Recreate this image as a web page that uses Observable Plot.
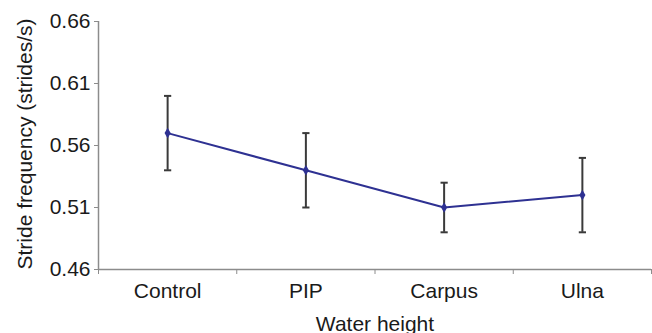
<!DOCTYPE html>
<html>
<head>
<meta charset="utf-8">
<script src="https://cdn.jsdelivr.net/npm/d3@7"></script>
<script src="https://cdn.jsdelivr.net/npm/@observablehq/plot@0.6"></script>
<style>
  html, body { margin: 0; padding: 0; background: #fff; }
</style>
</head>
<body>
<div id="chart"></div>
<script>
const categories = ["Control", "PIP", "Carpus", "Ulna"];
const means = [0.57, 0.54, 0.51, 0.52];
const lower = [0.54, 0.51, 0.49, 0.49];
const upper = [0.60, 0.57, 0.53, 0.55];
const yTicks = [0.46, 0.51, 0.56, 0.61, 0.66];
const xLabel = "Water height";
const yLabel = "Stride frequency (strides/s)";

const data = categories.map((c, i) => ({
  category: c, pos: i + 0.5, mean: means[i], lo: lower[i], hi: upper[i]
}));
const boundaries = d3.range(categories.length + 1);
const centers = categories.map((c, i) => i + 0.5);

const capSymbol = {
  draw(ctx, size) {
    const w = Math.sqrt(size / Math.PI);
    ctx.moveTo(-w, 0);
    ctx.lineTo(w, 0);
  }
};

const axisGray = "#8c8c8c";
const textColor = "#1a1a1a";
const lineColor = "#2e3192";
const barColor = "#3a3a3a";

const chart = Plot.plot({
  width: 652,
  height: 333,
  marginLeft: 98,
  marginRight: 1,
  marginTop: 21,
  marginBottom: 64,
  style: { fontFamily: "'Liberation Sans', Arial, sans-serif", fontSize: "21px", color: textColor, background: "#fff", overflow: "visible" },
  x: { domain: [0, categories.length], label: null },
  y: { domain: [yTicks[0], yTicks[yTicks.length - 1]], label: null },
  marks: [
    Plot.ruleY([yTicks[0]], { stroke: axisGray, strokeWidth: 1.5 }),
    Plot.ruleX([0], { y1: yTicks[0], y2: yTicks[yTicks.length - 1], stroke: axisGray, strokeWidth: 1.5 }),
    Plot.axisY({ ticks: yTicks, tickSize: 4, tickPadding: 4, tickFormat: d => d.toFixed(2), fontSize: 21, stroke: axisGray, fill: textColor, label: null }),
    Plot.axisX({ ticks: boundaries, tickSize: 5, tickFormat: () => "", stroke: axisGray, label: null }),
    Plot.axisX({ ticks: centers, tickSize: 0, tickPadding: 14, tickFormat: d => categories[Math.floor(d)], fontSize: 21, fill: textColor, label: null }),
    Plot.text([xLabel], { frameAnchor: "bottom", textAnchor: "middle", lineAnchor: "bottom", dy: 61, fontSize: 21, fill: textColor }),
    Plot.text([yLabel], { frameAnchor: "left", textAnchor: "middle", lineAnchor: "middle", rotate: -90, dx: -73, dy: -1.5, fontSize: 21, fill: textColor }),
    Plot.ruleX(data, { x: "pos", y1: "lo", y2: "hi", stroke: barColor, strokeWidth: 2 }),
    Plot.dot(data, { x: "pos", y: "hi", symbol: capSymbol, r: 3.6, fill: "none", stroke: barColor, strokeWidth: 2 }),
    Plot.dot(data, { x: "pos", y: "lo", symbol: capSymbol, r: 3.6, fill: "none", stroke: barColor, strokeWidth: 2 }),
    Plot.line(data, { x: "pos", y: "mean", stroke: lineColor, strokeWidth: 2 }),
    Plot.dot(data, { x: "pos", y: "mean", symbol: "diamond", r: 3.2, fill: lineColor, stroke: "none" })
  ]
});
document.getElementById("chart").appendChild(chart);
</script>
</body>
</html>
